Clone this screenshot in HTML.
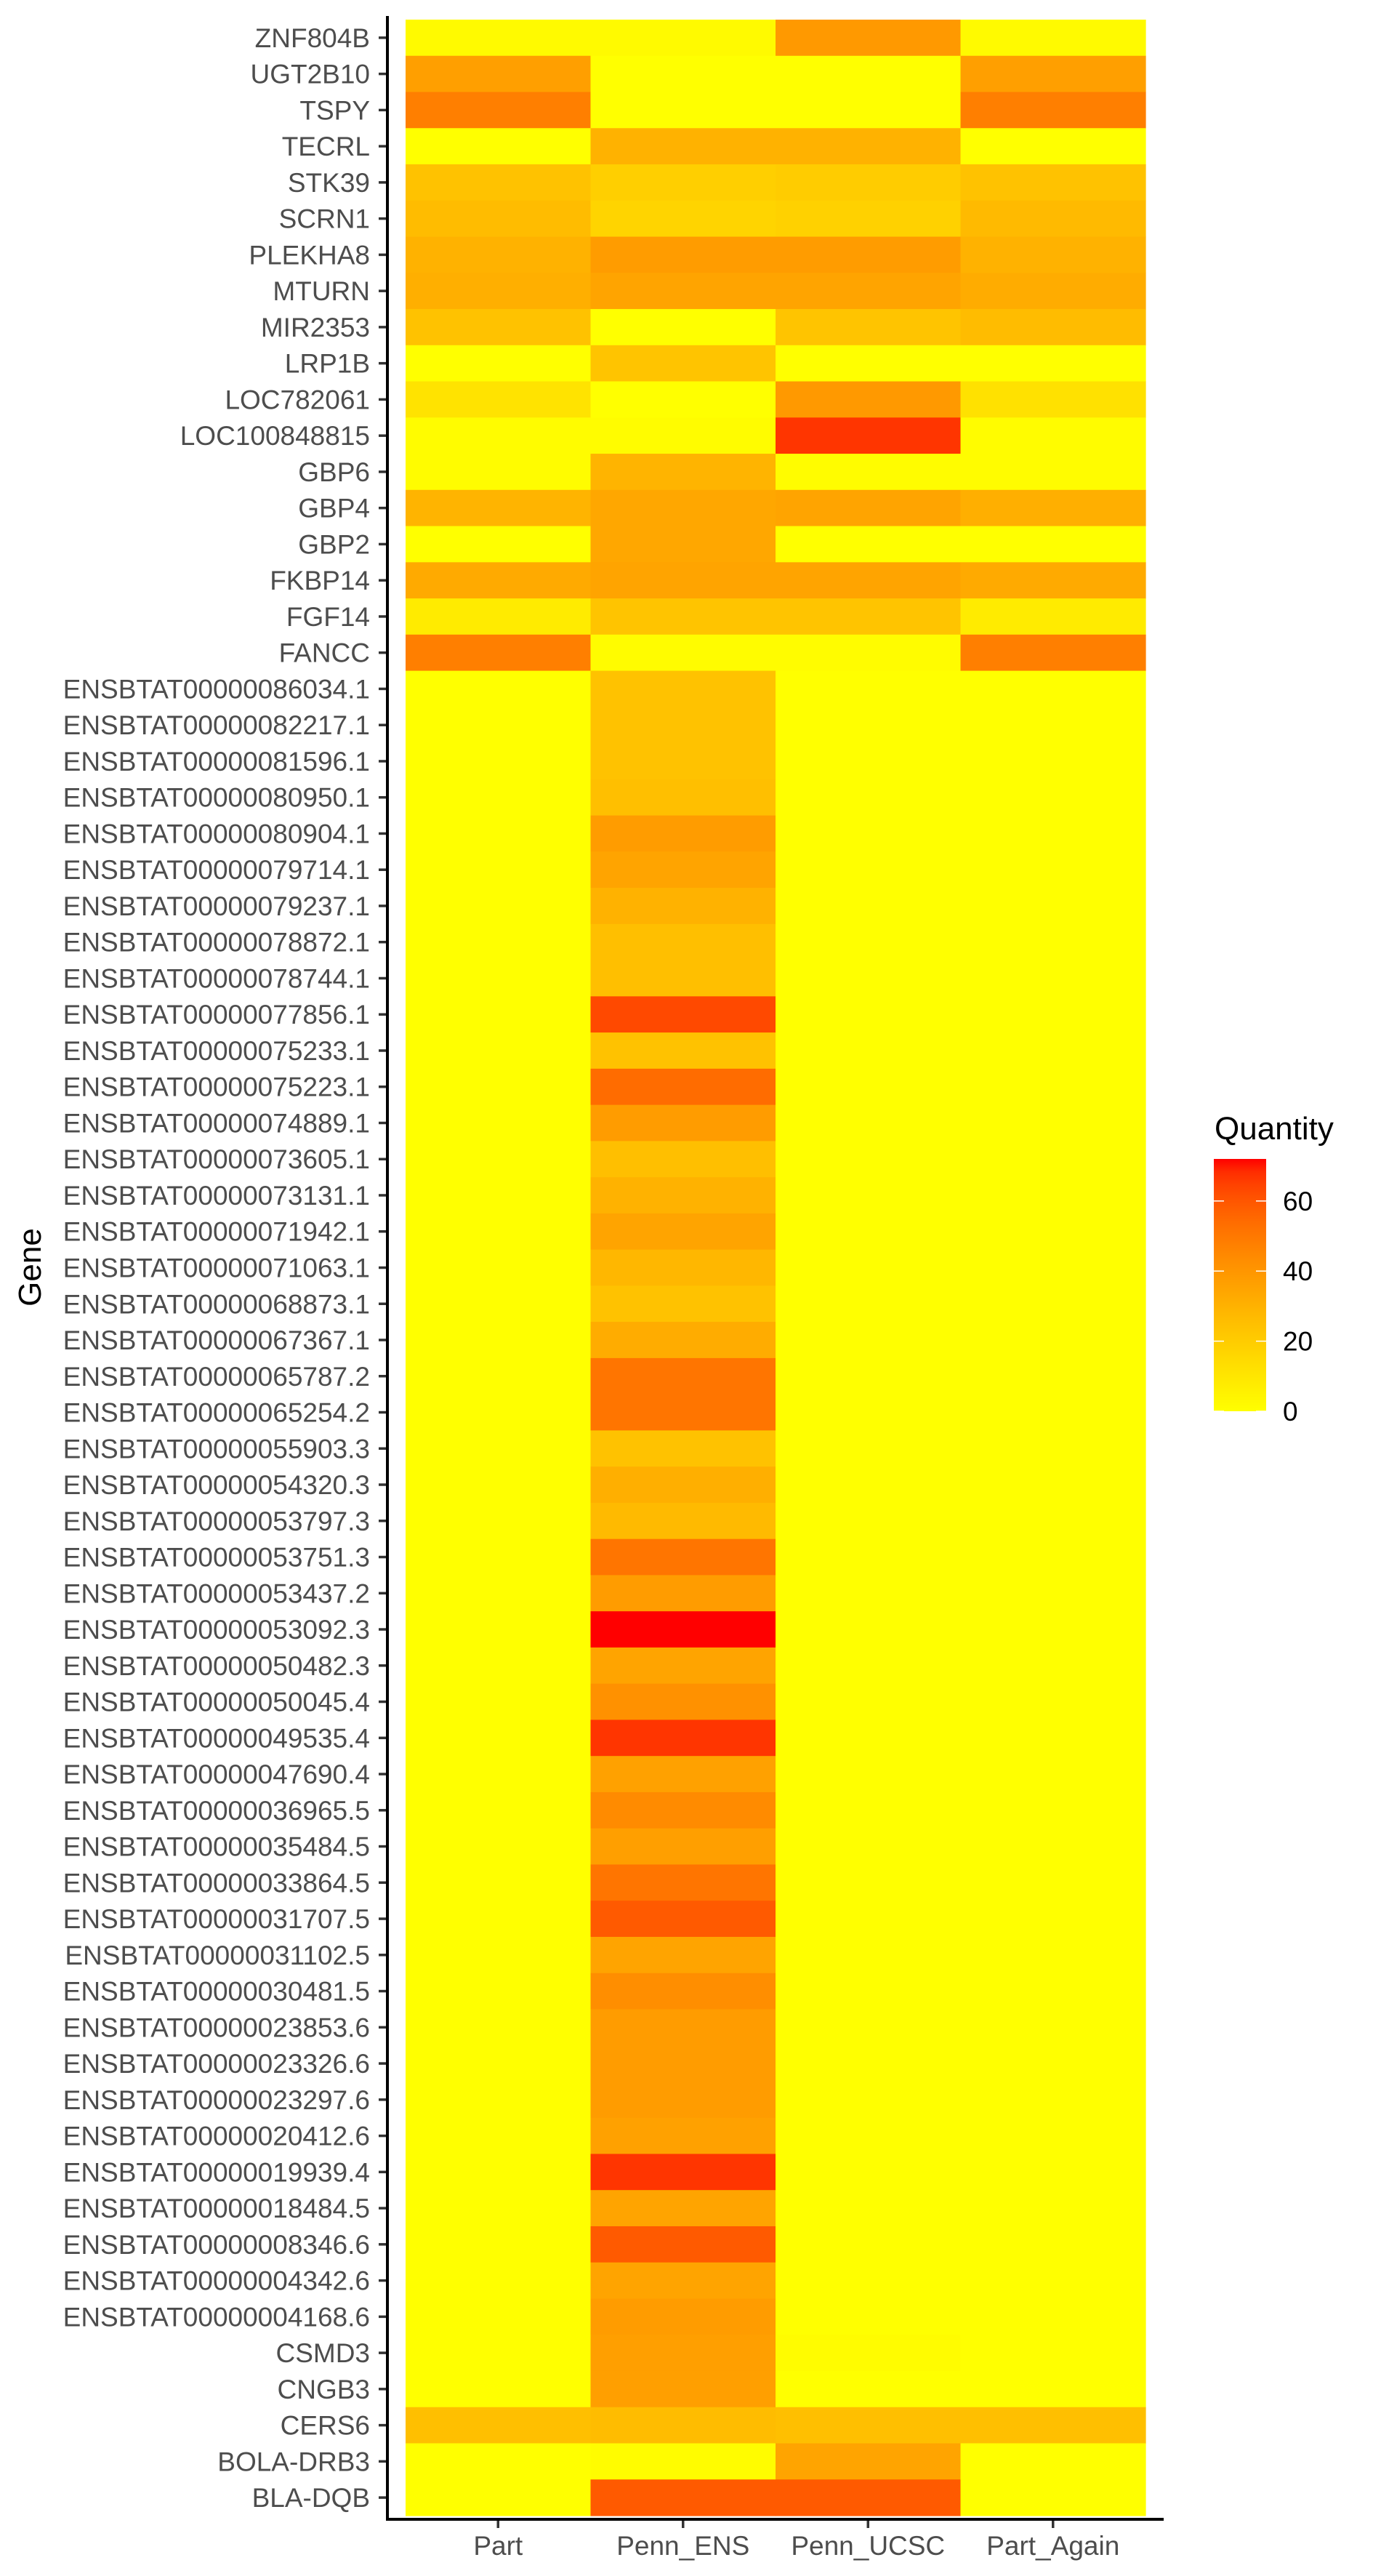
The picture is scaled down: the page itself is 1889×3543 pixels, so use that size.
<!DOCTYPE html>
<html>
<head>
<meta charset="utf-8">
<style>
  html, body { margin: 0; padding: 0; background: #ffffff; }
  svg { display: block; }
  text { font-family: "Liberation Sans", Arial, sans-serif; }
</style>
</head>
<body>
<svg id="chart" xmlns="http://www.w3.org/2000/svg" width="1889" height="3543" viewBox="0 0 1889 3543">
  <rect x="0" y="0" width="1889" height="3543" fill="#ffffff"/>
  <g id="cells"></g>
  <g id="yaxis"></g>
  <g id="xaxis"></g>
  <text x="0" y="0" transform="translate(56,1743) rotate(-90)" text-anchor="middle" font-size="44" fill="#000000">Gene</text>
  <g id="legend">
    <text x="1671" y="1567" font-size="44" fill="#000000">Quantity</text>
    <defs>
      <linearGradient id="lg" x1="0" y1="1" x2="0" y2="0"></linearGradient>
    </defs>
    <rect x="1670" y="1594" width="72" height="347" fill="url(#lg)"/>
    <g id="legendTicks"></g>
  </g>
</svg>
<script>
const genes = ["ZNF804B","UGT2B10","TSPY","TECRL","STK39","SCRN1","PLEKHA8","MTURN","MIR2353","LRP1B","LOC782061","LOC100848815","GBP6","GBP4","GBP2","FKBP14","FGF14","FANCC",
"ENSBTAT00000086034.1","ENSBTAT00000082217.1","ENSBTAT00000081596.1","ENSBTAT00000080950.1","ENSBTAT00000080904.1","ENSBTAT00000079714.1","ENSBTAT00000079237.1","ENSBTAT00000078872.1","ENSBTAT00000078744.1","ENSBTAT00000077856.1","ENSBTAT00000075233.1","ENSBTAT00000075223.1","ENSBTAT00000074889.1","ENSBTAT00000073605.1","ENSBTAT00000073131.1","ENSBTAT00000071942.1","ENSBTAT00000071063.1","ENSBTAT00000068873.1","ENSBTAT00000067367.1","ENSBTAT00000065787.2","ENSBTAT00000065254.2","ENSBTAT00000055903.3","ENSBTAT00000054320.3","ENSBTAT00000053797.3","ENSBTAT00000053751.3","ENSBTAT00000053437.2","ENSBTAT00000053092.3","ENSBTAT00000050482.3","ENSBTAT00000050045.4","ENSBTAT00000049535.4","ENSBTAT00000047690.4","ENSBTAT00000036965.5","ENSBTAT00000035484.5","ENSBTAT00000033864.5","ENSBTAT00000031707.5","ENSBTAT00000031102.5","ENSBTAT00000030481.5","ENSBTAT00000023853.6","ENSBTAT00000023326.6","ENSBTAT00000023297.6","ENSBTAT00000020412.6","ENSBTAT00000019939.4","ENSBTAT00000018484.5","ENSBTAT00000008346.6","ENSBTAT00000004342.6","ENSBTAT00000004168.6",
"CSMD3","CNGB3","CERS6","BOLA-DRB3","BLA-DQB"];
const samples = ["Part","Penn_ENS","Penn_UCSC","Part_Again"];
const partVals = [2,37,48,0,24,26,30,31,24,0,11,1,1,29,0,33,8,48,
0,0,0,0,0,0,0,0,0,0,0,0,0,0,0,0,0,0,0,0,0,0,0,0,0,0,0,0,0,0,0,0,0,0,0,0,0,0,0,0,0,0,0,0,0,0,
0,0,25,0,0];
const pennEnsVals = [2,0,0,30,19,17,38,35,0,23,0,1,29,34,34,35,23,1,
24,24,24,25,38,35,30,25,25,63,24,54,38,25,30,35,28,24,32,51,51,24,31,27,51,38,72,35,42,67,36,44,37,51,59,35,43,38,38,38,36,67,35,59,35,38,
37,37,26,1,59];
const pennUcscVals = [39,0,0,30,20,18,38,35,23,0,39,67,1,35,0,35,23,1,
0,0,0,0,0,0,0,0,0,0,0,0,0,0,0,0,0,0,0,0,0,0,0,0,0,0,0,0,0,0,0,0,0,0,0,0,0,0,0,0,0,0,0,0,0,0,
1,0,25,35,59];
const partAgainVals = [2,37,48,0,24,27,30,32,26,0,12,1,1,31,0,33,8,48,
0,0,0,0,0,0,0,0,0,0,0,0,0,0,0,0,0,0,0,0,0,0,0,0,0,0,0,0,0,0,0,0,0,0,0,0,0,0,0,0,0,0,0,0,0,0,
0,0,25,0,0];
const legendTicks = [0,20,40,60];

const series = [partVals, pennEnsVals, pennUcscVals, partAgainVals];
const NS = "http://www.w3.org/2000/svg";
const allVals = series.flat();
const vMin = 0, vMax = Math.max(...allVals);

// plot geometry
const PL = 558, PR = 1576, PT = 27, PB = 3460;
const colW = (PR - PL) / samples.length;
const rowH = (PB - PT) / genes.length;
function xScale(i) { return PL + i * colW; }
function yScale(j) { return PT + j * rowH; }
const LB_TOP = 1594, LB_BOT = 1941;
function legendY(v) { return LB_BOT - (v - vMin) / (vMax - vMin) * (LB_BOT - LB_TOP); }

// Lab color interpolation yellow -> red (like ggplot scale_fill_gradient)
function srgbToLin(c){ c/=255; return c<=0.04045? c/12.92 : Math.pow((c+0.055)/1.055,2.4); }
function linToSrgb(c){ c = c<=0.0031308? 12.92*c : 1.055*Math.pow(c,1/2.4)-0.055; return Math.round(Math.max(0,Math.min(1,c))*255); }
function rgb2lab(r,g,b){
  r=srgbToLin(r); g=srgbToLin(g); b=srgbToLin(b);
  let X=(0.4124*r+0.3576*g+0.1805*b)/0.95047, Y=(0.2126*r+0.7152*g+0.0722*b), Z=(0.0193*r+0.1192*g+0.9505*b)/1.08883;
  const f=t=> t>0.008856? Math.cbrt(t) : 7.787*t+16/116;
  X=f(X); Y=f(Y); Z=f(Z);
  return [116*Y-16, 500*(X-Y), 200*(Y-Z)];
}
function lab2rgb(L,a,b){
  let Y=(L+16)/116, X=a/500+Y, Z=Y-b/200;
  const fi=t=> t*t*t>0.008856? t*t*t : (t-16/116)/7.787;
  X=fi(X)*0.95047; Y=fi(Y); Z=fi(Z)*1.08883;
  const r= 3.2406*X-1.5372*Y-0.4986*Z, g=-0.9689*X+1.8758*Y+0.0415*Z, bb=0.0557*X-0.2040*Y+1.0570*Z;
  return "rgb("+linToSrgb(r)+","+linToSrgb(g)+","+linToSrgb(bb)+")";
}
const LOW = rgb2lab(255,255,0), HIGH = rgb2lab(255,0,0);
function colorScale(v){
  const t = Math.max(0, Math.min(1, (v - vMin) / (vMax - vMin)));
  return lab2rgb(LOW[0]+(HIGH[0]-LOW[0])*t, LOW[1]+(HIGH[1]-LOW[1])*t, LOW[2]+(HIGH[2]-LOW[2])*t);
}

// cells
const cellsG = document.getElementById("cells");
series.forEach((vals, i) => {
  vals.forEach((v, j) => {
    const r = document.createElementNS(NS, "rect");
    r.setAttribute("x", xScale(i));
    r.setAttribute("y", yScale(j));
    r.setAttribute("width", colW + 0.6);
    r.setAttribute("height", rowH + 0.6);
    r.setAttribute("fill", colorScale(v));
    
    
    cellsG.appendChild(r);
  });
});

// y axis
const yG = document.getElementById("yaxis");
const yLine = document.createElementNS(NS, "line");
yLine.setAttribute("x1", 533); yLine.setAttribute("x2", 533);
yLine.setAttribute("y1", 22); yLine.setAttribute("y2", 3467);
yLine.setAttribute("stroke", "#000"); yLine.setAttribute("stroke-width", 4);


yG.appendChild(yLine);
genes.forEach((g, j) => {
  const cy = yScale(j) + rowH / 2;
  const t = document.createElementNS(NS, "line");
  t.setAttribute("x1", 521); t.setAttribute("x2", 531);
  t.setAttribute("y1", cy); t.setAttribute("y2", cy);
  t.setAttribute("stroke", "#333333"); t.setAttribute("stroke-width", 3.5);
  
  
  yG.appendChild(t);
  const tx = document.createElementNS(NS, "text");
  tx.setAttribute("x", 509); tx.setAttribute("y", cy + 13);
  tx.setAttribute("text-anchor", "end");
  tx.setAttribute("font-size", 37);
  tx.setAttribute("fill", "#4d4d4d");
  tx.textContent = g;
  
  
  yG.appendChild(tx);
});

// x axis
const xG = document.getElementById("xaxis");
const xLine = document.createElementNS(NS, "line");
xLine.setAttribute("x1", 531); xLine.setAttribute("x2", 1601);
xLine.setAttribute("y1", 3465); xLine.setAttribute("y2", 3465);
xLine.setAttribute("stroke", "#000"); xLine.setAttribute("stroke-width", 4);


xG.appendChild(xLine);
samples.forEach((s, i) => {
  const cx = xScale(i) + colW / 2;
  const t = document.createElementNS(NS, "line");
  t.setAttribute("x1", cx); t.setAttribute("x2", cx);
  t.setAttribute("y1", 3467); t.setAttribute("y2", 3477);
  t.setAttribute("stroke", "#333333"); t.setAttribute("stroke-width", 3.5);
  
  
  xG.appendChild(t);
  const tx = document.createElementNS(NS, "text");
  tx.setAttribute("x", cx); tx.setAttribute("y", 3514);
  tx.setAttribute("text-anchor", "middle");
  tx.setAttribute("font-size", 37);
  tx.setAttribute("fill", "#4d4d4d");
  tx.textContent = s;
  
  
  xG.appendChild(tx);
});

// legend gradient
const grad = document.getElementById("lg");
for (let k = 0; k <= 20; k++) {
  const st = document.createElementNS(NS, "stop");
  st.setAttribute("offset", (k / 20));
  st.setAttribute("stop-color", colorScale(vMin + (vMax - vMin) * k / 20));
  grad.appendChild(st);
}
const ltG = document.getElementById("legendTicks");
legendTicks.forEach(v => {
  const y = legendY(v);
  [[1670, 1684], [1728, 1742]].forEach(([a, b]) => {
    const l = document.createElementNS(NS, "line");
    l.setAttribute("x1", a); l.setAttribute("x2", b);
    l.setAttribute("y1", y); l.setAttribute("y2", y);
    l.setAttribute("stroke", "#ffffff"); l.setAttribute("stroke-width", 1.5);
    
    
    ltG.appendChild(l);
  });
  const tx = document.createElementNS(NS, "text");
  tx.setAttribute("x", 1765); tx.setAttribute("y", y + 13);
  tx.setAttribute("font-size", 37);
  tx.setAttribute("fill", "#000000");
  tx.textContent = String(v);
  
  
  ltG.appendChild(tx);
});
</script>
</body>
</html>
